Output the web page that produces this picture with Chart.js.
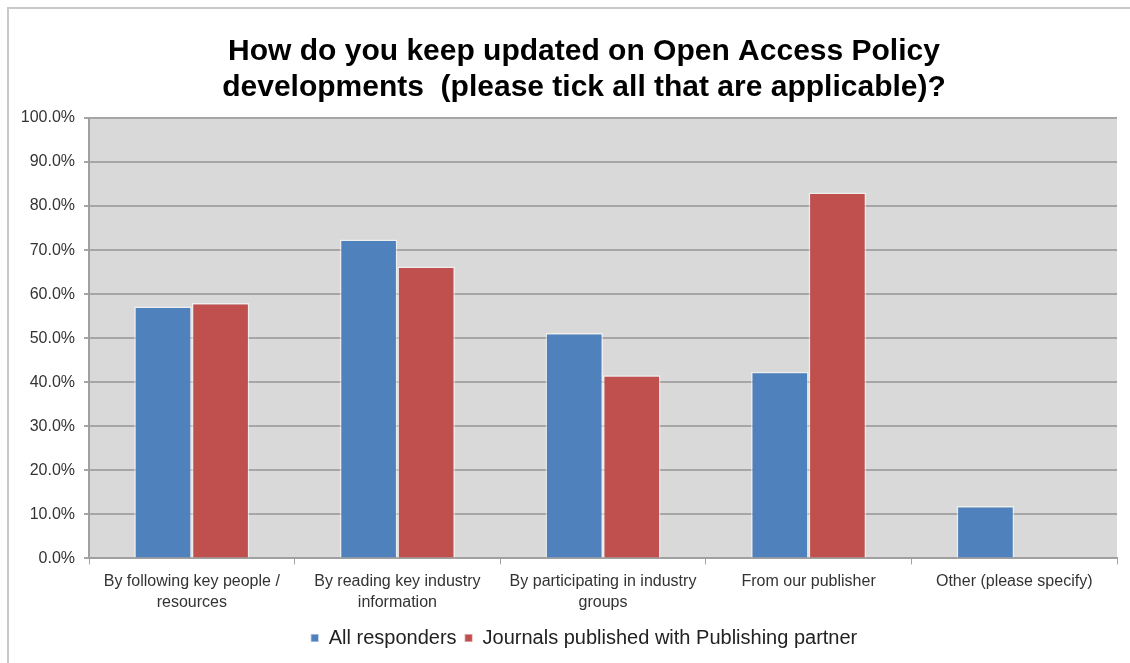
<!DOCTYPE html>
<html>
<head>
<meta charset="utf-8">
<script src="https://cdn.jsdelivr.net/npm/chart.js@4"></script>
<style>
  html, body { margin: 0; padding: 0; background: #fff; }
  #frame {
    position: absolute; left: 7px; top: 7px; width: 1130px; height: 700px;
    border-left: 2px solid #c9c9c9; border-top: 2px solid #c9c9c9;
  }
  #wrap { position: absolute; left: 0; top: 0; width: 1130px; height: 663px; }
</style>
</head>
<body>
<div id="frame"></div>
<div id="wrap"><canvas id="oaChart"></canvas></div>
<script>
const categories = [
  ['By following key people /', 'resources'],
  ['By reading key industry', 'information'],
  ['By participating in industry', 'groups'],
  'From our publisher',
  'Other (please specify)'
];
const allResponders = [57.2, 72.4, 51.2, 42.4, 11.9];
const publishingPartner = [58.0, 66.3, 41.6, 83.1, null];
const yTicks = [0, 10, 20, 30, 40, 50, 60, 70, 80, 90, 100];

// fond gris de la zone de tracé
const plotBackground = {
  id: 'plotBackground',
  beforeDraw(chart) {
    const { ctx, chartArea: a } = chart;
    ctx.save();
    ctx.fillStyle = '#d9d9d9';
    ctx.fillRect(a.left, a.top, a.right - a.left, a.bottom - a.top);
    ctx.restore();
  }
};

Chart.defaults.font.family = '"Liberation Sans", Arial, sans-serif';
Chart.defaults.color = '#333';

new Chart(document.getElementById('oaChart'), {
  type: 'bar',
  data: {
    labels: categories,
    datasets: [
      {
        label: 'All responders',
        data: allResponders,
        backgroundColor: '#4f81bd',
        borderColor: 'rgba(255,255,255,0.55)',
        borderWidth: 1.5
      },
      {
        label: 'Journals published with Publishing partner',
        data: publishingPartner,
        backgroundColor: '#c0504d',
        borderColor: 'rgba(255,255,255,0.55)',
        borderWidth: 1.5
      }
    ]
  },
  options: {
    responsive: true,
    maintainAspectRatio: false,
    animation: false,
    categoryPercentage: 0.56,
    barPercentage: 1.0,
    layout: { padding: { left: 51, right: 13, top: 0, bottom: 5 } },
    plugins: {
      title: {
        display: true,
        text: ['How do you keep updated on Open Access Policy', 'developments  (please tick all that are applicable)?'],
        color: '#000',
        font: { size: 30, weight: 'bold' },
        lineHeight: 1.33,
        padding: { top: 34, bottom: 12 }
      },
      legend: {
        position: 'bottom',
        labels: {
          boxWidth: 8,
          boxHeight: 8,
          padding: 8,
          color: '#222',
          font: { size: 20 }
        }
      },
      tooltip: { enabled: false }
    },
    scales: {
      x: {
        grid: {
          offset: true,
          drawOnChartArea: false,
          drawTicks: true,
          tickLength: 6,
          color: '#a0a0a0'
        },
        border: { color: '#a0a0a0', width: 2 },
        ticks: { font: { size: 16, lineHeight: 1.3 }, color: '#333', padding: 7, maxRotation: 0, autoSkip: false }
      },
      y: {
        min: 0,
        max: 100,
        afterFit(scale) { scale.width = 38; },
        // les libellés débordent à gauche de la boîte de l'axe : pas de découpe
        afterUpdate(scale) { scale._computeLabelArea = () => undefined; },
        afterBuildTicks(scale) { scale.ticks = yTicks.map(v => ({ value: v })); },
        grid: { color: '#a6a6a6', lineWidth: 2, tickLength: 5 },
        border: { color: '#a0a0a0', width: 2 },
        ticks: {
          font: { size: 16 },
          color: '#333',
          padding: 9,
          callback: v => v.toFixed(1) + '%'
        }
      }
    }
  },
  plugins: [plotBackground]
});
</script>
</body>
</html>
